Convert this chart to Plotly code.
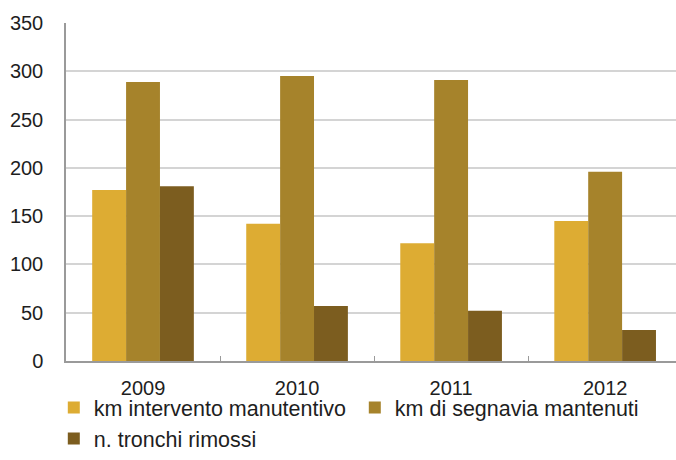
import plotly.graph_objects as go

years = ["2009", "2010", "2011", "2012"]
series_names = ["km intervento manutentivo", "km di segnavia mantenuti", "n. tronchi rimossi"]
km_intervento = [177, 142, 122, 145]
km_segnavia = [289, 295, 291, 196]
tronchi = [181, 57, 52, 32]
y_ticks = [0, 50, 100, 150, 200, 250, 300, 350]

colors = ["#DDAC33", "#A6832B", "#7C5D1F"]
FONT = "Liberation Sans, Arial, sans-serif"

fig = go.Figure()
for name, vals, col in zip(series_names, [km_intervento, km_segnavia, tronchi], colors):
    fig.add_trace(go.Bar(x=years, y=vals, name=name, marker=dict(color=col, line=dict(width=0))))

fig.update_layout(
    width=676, height=460,
    margin=dict(l=66, r=0, t=23, b=99),
    paper_bgcolor="white", plot_bgcolor="white",
    barmode="group", bargap=0.34, bargroupgap=0,
    font=dict(family=FONT, size=20, color="#1e1e1e"),
    showlegend=True,
    legend=dict(orientation="h", x=-0.02, xanchor="left", y=-0.077, yanchor="top",
                entrywidth=256, entrywidthmode="pixels", bgcolor="rgba(0,0,0,0)",
                font=dict(family=FONT, size=21.5, color="#1e1e1e"),
                itemwidth=30, tracegroupgap=0, traceorder="normal"),
)
fig.update_xaxes(range=[-0.5, 3.46], showline=True, linecolor="#9a9a9a", linewidth=1.5,
                 ticks="inside", tickson="boundaries", ticklen=5, tickcolor="#9a9a9a",
                 showgrid=False, tickfont=dict(size=20), ticklabelstandoff=8, automargin=False)
fig.update_yaxes(range=[0, 350], tickvals=y_ticks, showline=True, linecolor="#9a9a9a", linewidth=1.5,
                 showgrid=True, gridcolor="#d4d4d4", gridwidth=1.5, zeroline=False,
                 ticks="", tickfont=dict(size=20), ticklabelstandoff=17, automargin=False)

fig.write_html("out.html", config={"displayModeBar": False},
               post_script="document.body.style.margin='0';")
